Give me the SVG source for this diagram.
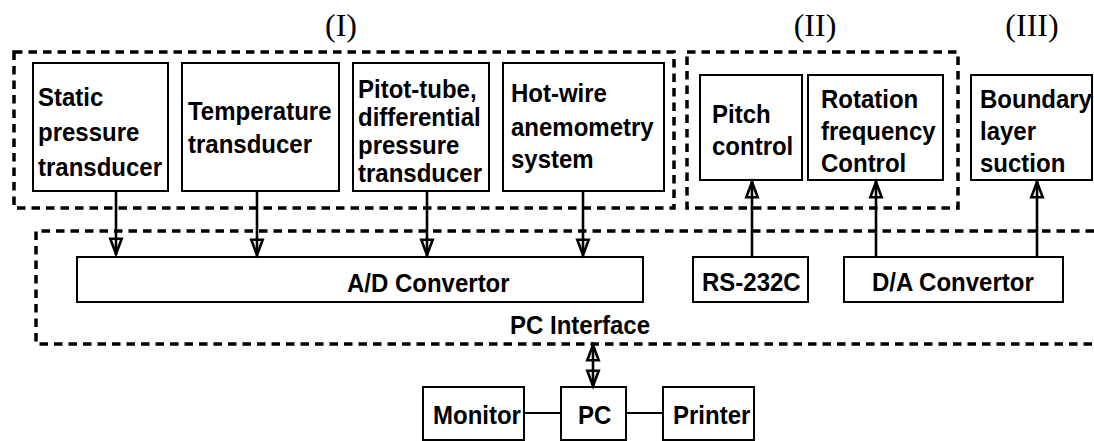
<svg xmlns="http://www.w3.org/2000/svg" width="1094" height="441" viewBox="0 0 1094 441">
<style>
.box{fill:#fff;stroke:#000;stroke-width:2}
.grp{fill:none;stroke:#000;stroke-width:3.5;stroke-dasharray:8.5 6}
.t{font-family:"Liberation Sans",Arial,sans-serif;font-weight:bold;font-size:24px;fill:#000;transform-box:fill-box;transform-origin:0 79%;transform:scaleY(1.08)}
.r{font-family:"Liberation Serif","Times New Roman",serif;font-size:32px;fill:#000;text-anchor:middle}
.c{fill:none;stroke:#000;stroke-width:2.6}
.l{fill:none;stroke:#000;stroke-width:2}
</style>
<defs>
<marker id="ah" viewBox="0 0 17 13" refX="17" refY="6.5" markerWidth="17" markerHeight="13" markerUnits="userSpaceOnUse" orient="auto-start-reverse" overflow="visible">
<path d="M0.8,0.8 L16,6.5 L0.8,12.2 Z" fill="none" stroke="#000" stroke-width="2.6" stroke-linejoin="miter"/>
</marker>
</defs>
<rect width="1094" height="441" fill="#fff"/>
<g id="labels">
<text class="r" x="341" y="36">(I)</text>
<text class="r" x="815" y="36">(II)</text>
<text class="r" x="1032" y="36">(III)</text>
</g>
<g id="group-I"><rect class="grp" x="14" y="52" width="660" height="156"/></g>
<g id="group-II"><rect class="grp" x="687" y="52" width="271" height="156"/></g>
<g id="pc-interface">
<path class="grp" d="M1094,231 H36 V344 H1094"/>
<text class="t" x="510" y="334">PC Interface</text>
</g>
<g id="static"><rect class="box" x="33" y="63" width="135" height="128"/>
<text class="t" x="38" y="106">Static</text><text class="t" x="38" y="141">pressure</text><text class="t" x="38" y="176">transducer</text></g>
<g id="temperature"><rect class="box" x="182" y="63" width="157" height="128"/>
<text class="t" x="188" y="120">Temperature</text><text class="t" x="188" y="153">transducer</text></g>
<g id="pitot"><rect class="box" x="353" y="63" width="136" height="128"/>
<text class="t" x="358" y="98">Pitot-tube,</text><text class="t" x="358" y="126">differential</text><text class="t" x="358" y="154">pressure</text><text class="t" x="358" y="182">transducer</text></g>
<g id="hotwire"><rect class="box" x="503" y="63" width="161" height="128"/>
<text class="t" x="511" y="102">Hot-wire</text><text class="t" x="511" y="136">anemometry</text><text class="t" x="511" y="168">system</text></g>
<g id="pitch"><rect class="box" x="700" y="75" width="102" height="105"/>
<text class="t" x="712" y="123">Pitch</text><text class="t" x="712" y="155">control</text></g>
<g id="rotation"><rect class="box" x="808" y="75" width="135" height="105"/>
<text class="t" x="821" y="108">Rotation</text><text class="t" x="821" y="140">frequency</text><text class="t" x="821" y="172">Control</text></g>
<g id="boundary"><rect class="box" x="971" y="75" width="121" height="105"/>
<text class="t" x="980" y="108">Boundary</text><text class="t" x="980" y="140">layer</text><text class="t" x="980" y="172">suction</text></g>
<g id="ad"><rect class="box" x="77" y="257" width="566" height="45"/>
<text class="t" x="347" y="292">A/D Convertor</text></g>
<g id="rs232"><rect class="box" x="693" y="257" width="115" height="45"/>
<text class="t" x="702" y="291">RS-232C</text></g>
<g id="da"><rect class="box" x="844" y="257" width="219" height="45"/>
<text class="t" x="872" y="291">D/A Convertor</text></g>
<g id="monitor"><rect class="box" x="423" y="387" width="101" height="53"/>
<text class="t" x="433" y="424">Monitor</text></g>
<g id="pc"><rect class="box" x="561" y="387" width="65" height="53"/>
<text class="t" x="578" y="424">PC</text></g>
<g id="printer"><rect class="box" x="663" y="387" width="91" height="53"/>
<text class="t" x="673" y="424">Printer</text></g>
<g id="connectors">
<line class="c" x1="116" y1="191" x2="116" y2="255" marker-end="url(#ah)"/>
<line class="c" x1="257" y1="191" x2="257" y2="256" marker-end="url(#ah)"/>
<line class="c" x1="427" y1="191" x2="427" y2="256" marker-end="url(#ah)"/>
<line class="c" x1="583" y1="191" x2="583" y2="256" marker-end="url(#ah)"/>
<line class="c" x1="752" y1="257" x2="752" y2="181" marker-end="url(#ah)"/>
<line class="c" x1="876" y1="257" x2="876" y2="181" marker-end="url(#ah)"/>
<line class="c" x1="1037" y1="257" x2="1037" y2="181" marker-end="url(#ah)"/>
<line class="c" x1="593" y1="344" x2="593" y2="387" marker-start="url(#ah)" marker-end="url(#ah)"/>
<line class="l" x1="524" y1="413" x2="561" y2="413"/>
<line class="l" x1="626" y1="413" x2="663" y2="413"/>
</g>
</svg>
